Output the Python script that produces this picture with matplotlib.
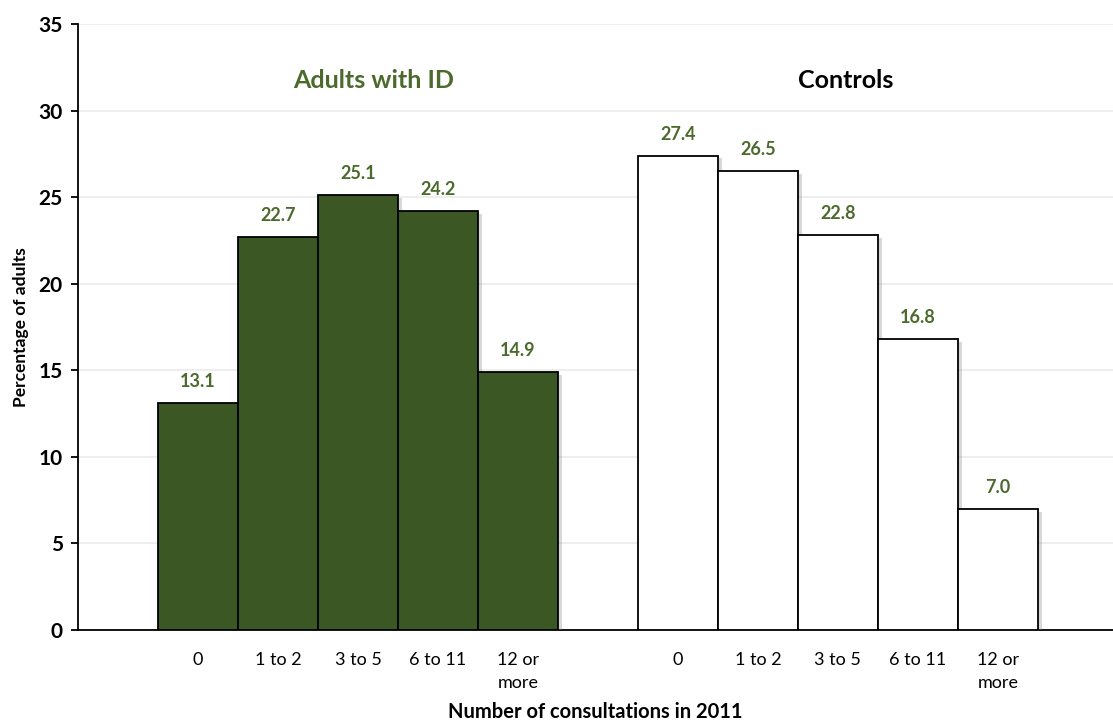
import matplotlib.pyplot as plt
import matplotlib.patheffects as pe

# --- Data ---
categories = ["0", "1 to 2", "3 to 5", "6 to 11", "12 or\nmore"]
adults_id = [13.1, 22.7, 25.1, 24.2, 14.9]
controls = [27.4, 26.5, 22.8, 16.8, 7.0]
group_titles = ["Adults with ID", "Controls"]

green = "#3A5724"
text_green = "#4B6A2C"

plt.rcParams['font.family'] = ['Lato', 'DejaVu Sans']

fig = plt.figure(figsize=(11.13, 7.22), dpi=100)
ax = fig.add_axes([0.0701, 0.1274, 0.9299, 0.8394])

pos_id = list(range(len(adults_id)))
pos_ctrl = [p + len(adults_id) + 1 for p in pos_id]

shadow = [pe.SimplePatchShadow(offset=(3, -2), shadow_rgbFace='gray', alpha=0.3), pe.Normal()]

bars1 = ax.bar(pos_id, adults_id, width=1.0, color=green, edgecolor='black', linewidth=1.3, zorder=3)
bars2 = ax.bar(pos_ctrl, controls, width=1.0, color='white', edgecolor='black', linewidth=1.3, zorder=3)
for b in list(bars1) + list(bars2):
    b.set_path_effects(shadow)

for p, v in zip(pos_id + pos_ctrl, adults_id + controls):
    ax.text(p, v + 0.75, f"{v:.1f}", ha='center', va='bottom', color=text_green,
            fontsize=13, fontweight='bold', zorder=4)

ax.text(2.2, 31.75, group_titles[0], ha='center', va='center', color=text_green,
        fontsize=18, fontweight='bold')
ax.text(8.1, 31.75, group_titles[1], ha='center', va='center', color='black',
        fontsize=18, fontweight='bold')

ax.set_xlim(-1.5, 11.44)
ax.set_ylim(0, 35)
ax.set_yticks(range(0, 36, 5))
ax.set_xticks(pos_id + pos_ctrl)
ax.set_xticklabels(categories + categories, fontsize=13, linespacing=1.5)
ax.tick_params(axis='x', length=0, pad=16)
ax.tick_params(axis='y', length=5, width=1.3, direction='out', labelsize=15, pad=6)
for lbl in ax.get_yticklabels():
    lbl.set_fontweight('bold')

ax.grid(axis='y', color='#EBEBEB', linewidth=1.2, zorder=0)
ax.set_axisbelow(True)
for s in ['top', 'right']:
    ax.spines[s].set_visible(False)
for s in ['left', 'bottom']:
    ax.spines[s].set_linewidth(1.3)

ax.set_ylabel("Percentage of adults", fontsize=12.5, fontweight='bold', labelpad=7)
ax.set_xlabel("Number of consultations in 2011", fontsize=14.5, fontweight='bold', labelpad=8)

fig.savefig("out.png", dpi=100)
